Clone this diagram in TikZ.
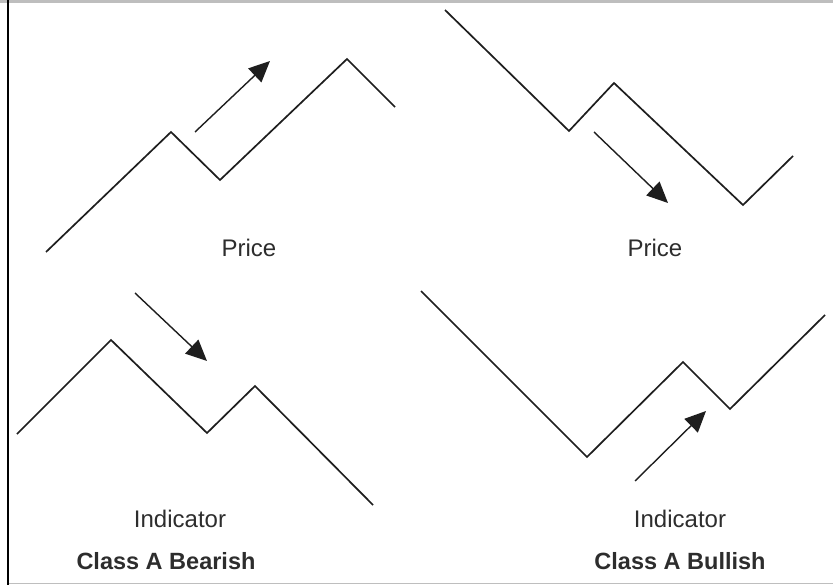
\documentclass[tikz,border=0pt]{standalone}
\usepackage{fontspec}
\setmainfont{Liberation Sans}
\usetikzlibrary{arrows.meta}
\definecolor{ink}{RGB}{30,30,30}
\definecolor{txt}{RGB}{45,45,45}
\definecolor{frame}{RGB}{190,190,190}

\begin{document}
\begin{tikzpicture}[
    x=1pt, y=-1pt,
    wave/.style={line width=1.7pt, ink, line join=miter},
    trend/.style={-{Triangle[length=21pt, width=19pt]}, line width=1.4pt, ink},
    label/.style={font=\fontsize{24}{28}\selectfont, text=txt},
    class/.style={font=\fontsize{23.5}{28}\selectfont\bfseries, text=txt},
]
\useasboundingbox (0,0) rectangle (833,585);

% Frame
\draw[frame, line width=3pt] (0,1.5) -- (833,1.5);
\draw[frame, line width=1.5pt] (8,583.5) -- (833,583.5);
\draw[black, line width=2pt] (8,0) -- (8,585);

% Price, rising
\draw[wave] (46,252) -- (171,132) -- (220,180) -- (347,59) -- (395,107);
\coordinate (pa1) at (195,132);
\coordinate (pa2) at (270,61);
\draw[trend] (pa1) -- (pa2);
\node[label] (price1) at (249,248) {Price};

% Price, falling
\draw[wave] (445,10) -- (569,131) -- (614,83) -- (743,205) -- (793,156);
\coordinate (pb1) at (594,132);
\coordinate (pb2) at (668,203);
\draw[trend] (pb1) -- (pb2);
\node[label] (price2) at (655,248) {Price};

% Indicator, falling
\draw[wave] (17,434) -- (111,340) -- (207,433) -- (255,386) -- (373,505);
\coordinate (ia1) at (135,293);
\coordinate (ia2) at (207,361);
\draw[trend] (ia1) -- (ia2);
\node[label] (ind1) at (180,519) {Indicator};
\node[class] (bear) at (166,561) {Class A Bearish};

% Indicator, rising
\draw[wave] (421,291) -- (587,457) -- (683,362) -- (730,409) -- (825,315);
\coordinate (ib1) at (635,481);
\coordinate (ib2) at (706,411);
\draw[trend] (ib1) -- (ib2);
\node[label] (ind2) at (680,519) {Indicator};
\node[class] (bull) at (680,561) {Class A Bullish};

\end{tikzpicture}
\end{document}
